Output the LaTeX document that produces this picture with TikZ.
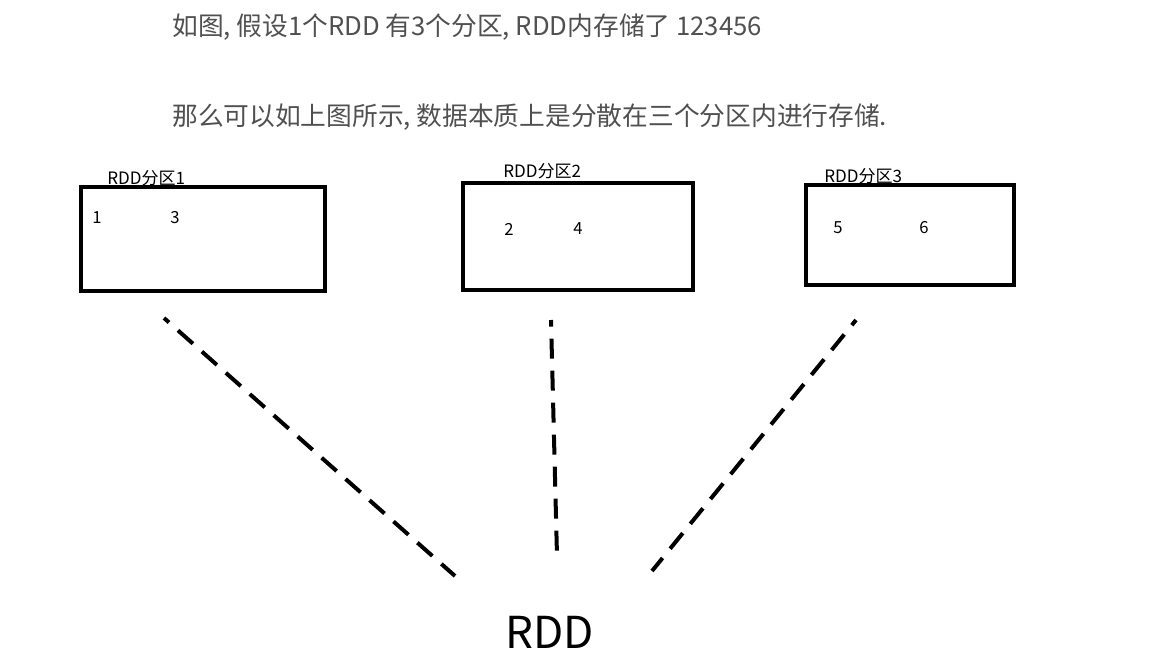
\documentclass[tikz,border=0pt]{standalone}
\usepackage{fontspec}
\setmainfont{Noto Sans CJK SC}
\usepackage{xcolor}
\definecolor{notegray}{RGB}{80,80,80}

\tikzset{
  partbox/.style={draw=black, line width=3.4pt, minimum width=#1},
  partlabel/.style={anchor=west, inner sep=0.75pt, font=\fontsize{12.8}{14}\selectfont},
  numtext/.style={inner sep=0.75pt, font=\fontsize{12.5}{14}\selectfont},
  linkline/.style={line width=3pt, dash pattern=on 15pt off 9pt, dash phase=10pt}
}

\begin{document}
\begin{tikzpicture}[x=0.75pt,y=0.75pt,yscale=-1,xscale=1]
\useasboundingbox (0,0) rectangle (1152,668);

% Text Node
\node (note1) [anchor=west, inner sep=0.75pt, text=notegray, font=\fontsize{19.3}{22}\selectfont] at (171,27) {如图, 假设1个RDD 有3个分区, RDD内存储了 123456};
% Text Node
\node (note2) [anchor=west, inner sep=0.75pt, text=notegray, font=\fontsize{19.3}{22}\selectfont] at (171,117) {那么可以如上图所示, 数据本质上是分散在三个分区内进行存储.};

% Partition boxes
\node (part1) [partbox=183pt, minimum height=78pt] at (203,239) {};
\node (part2) [partbox=172.5pt, minimum height=80.25pt] at (578,236.5) {};
\node (part3) [partbox=156pt, minimum height=75pt] at (910,235) {};

% Box titles
\node (lab1) [partlabel] at (106,178) {RDD分区1};
\node (lab2) [partlabel] at (502,171) {RDD分区2};
\node (lab3) [partlabel] at (823,176) {RDD分区3};

% Values
\node (v1) [numtext] at (97,218) {1};
\node (v3) [numtext] at (175,218) {3};
\node (v2) [numtext] at (509,229) {2};
\node (v4) [numtext] at (578,229) {4};
\node (v5) [numtext] at (838,228) {5};
\node (v6) [numtext] at (924,228) {6};

% RDD
\node (rdd) [inner sep=0.75pt, font=\fontsize{33}{38}\selectfont] at (550,632) {RDD};

% Dashed lines
\coordinate (a1) at (164,318);
\coordinate (b1) at (455,576);
\coordinate (a2) at (551,320);
\coordinate (b2) at (557,556);
\coordinate (a3) at (856,320);
\coordinate (b3) at (652,571);
\draw [linkline] (a1) -- (b1);
\draw [linkline] (a2) -- (b2);
\draw [linkline] (a3) -- (b3);

\end{tikzpicture}
\end{document}
